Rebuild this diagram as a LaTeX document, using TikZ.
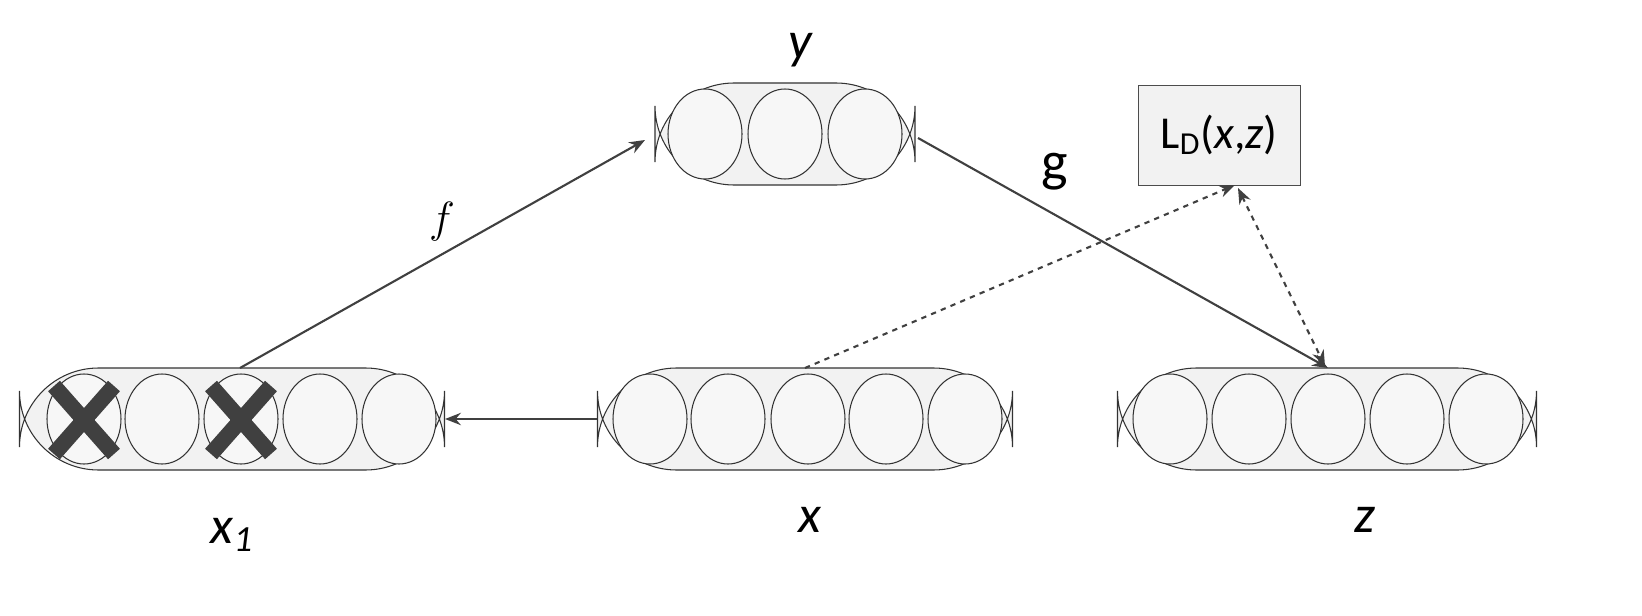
\documentclass[tikz,border=0pt]{standalone}
\usepackage{fontspec}
\setmainfont{Carlito}
\usetikzlibrary{arrows.meta}
\begin{document}
\begin{tikzpicture}[x=0.02cm,y=-0.02cm,
  capsule/.style={draw=black!80,fill=black!5,rounded corners=45,line width=0.6pt},
  cell/.style={draw=black!80,fill=black!3,line width=0.6pt},
  con/.style={draw=black!75,line width=1.2pt,-{Stealth[length=9pt,width=7pt]}},
  dcon/.style={con,dashed},
  lab/.style={font=\itshape\fontsize{30}{30}\selectfont}]
\useasboundingbox (0,0) rectangle (1642,615);
% capsules
\node[capsule,minimum width=260*0.02cm,minimum height=102*0.02cm] (y) at (785,134) {};
\node[capsule,minimum width=425*0.02cm,minimum height=102*0.02cm] (x1) at (232,419) {};
\node[capsule,minimum width=415*0.02cm,minimum height=102*0.02cm] (x) at (805,419) {};
\node[capsule,minimum width=419*0.02cm,minimum height=102*0.02cm] (z) at (1327,419) {};
\foreach \cx in {705,785,865} \draw[cell] (\cx,134) ellipse (37 and 45);
\foreach \cx in {84,162,241,320,399} \draw[cell] (\cx,419) ellipse (37 and 45);
\foreach \cx in {650,728,808,886,965} \draw[cell] (\cx,419) ellipse (37 and 45);
\foreach \cx in {1170,1249,1328,1407,1486} \draw[cell] (\cx,419) ellipse (37 and 45);
% crosses
\foreach \cx in {84,241}{
  \draw[black!75,line width=9pt] (\cx-30,386) -- (\cx+30,454);
  \draw[black!75,line width=9pt] (\cx+30,386) -- (\cx-30,454);}
% loss box
\node[draw=black!70,fill=black!5,minimum width=162*0.02cm,minimum height=100*0.02cm,font=\fontsize{26}{26}\selectfont] (L) at (1219,135) {L\textsubscript{D}(\textit{x},\textit{z})};
% labels
\node[lab] (ly) at (800,50) {y};
\node[lab] (lx1) at (232,535) {x\textsubscript{\itshape 1}};
\node[lab] (lx) at (810,520) {x};
\node[lab] (lz) at (1365,520) {z};
% connectors
\coordinate (a1) at (240,368); \coordinate (a2) at (645,140);
\draw[con] (a1) -- (a2);
\node[font=\fontsize{30}{30}\selectfont] (f) at (442,222) {$f$};
\coordinate (b1) at (918,138); \coordinate (b2) at (1328,368);
\draw[con] (b1) -- (b2);
\node[font=\fontsize{32}{32}\selectfont] (g) at (1055,172) {g};
\draw[con] (x.west) -- (x1.east);
\coordinate (c1) at (805,368); \coordinate (c2) at (1235,185);
\draw[dcon] (c1) -- (c2);
\coordinate (d1) at (1238,188); \coordinate (d2) at (1325,366);
\draw[dcon,{Stealth[length=9pt,width=7pt]}-{Stealth[length=9pt,width=7pt]}] (d1) -- (d2);
\end{tikzpicture}
\end{document}
